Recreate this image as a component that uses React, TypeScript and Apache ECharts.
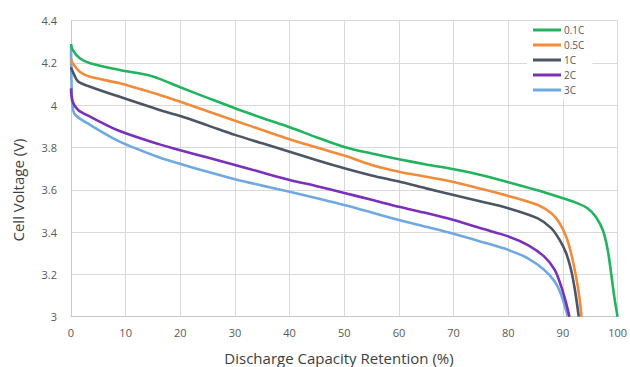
import React, { useEffect, useRef } from "react";
import * as echarts from "echarts";

const seriesNames = ["0.1C", "0.5C", "1C", "2C", "3C"];
const seriesColors = ["#22b35e", "#f28b3b", "#4b5565", "#7a30b8", "#70a9e2"];

const xTicks = [0, 10, 20, 30, 40, 50, 60, 70, 80, 90, 100];
const yTicks = [3, 3.2, 3.4, 3.6, 3.8, 4, 4.2, 4.4];

const c01: [number, number][] = [
  [0, 4.29], [0.3, 4.262], [1.6, 4.222], [3.5, 4.199], [8.9, 4.167], [14, 4.143],
  [16.2, 4.125], [20, 4.085], [25, 4.035], [30, 3.986], [35, 3.94], [40, 3.896],
  [45, 3.848], [50, 3.803], [55, 3.772], [60, 3.745], [65, 3.72], [70, 3.697],
  [75, 3.67], [80, 3.636], [85, 3.6], [90, 3.56], [92.7, 3.536], [94.5, 3.513],
  [96, 3.473], [97.3, 3.41], [98.2, 3.316], [98.9, 3.19], [99.4, 3.095], [100, 3.0],
];
const c05: [number, number][] = [
  [0, 4.22], [0.3, 4.199], [1.6, 4.159], [3.5, 4.135], [8.9, 4.104], [16.2, 4.049],
  [20, 4.017], [25, 3.972], [30, 3.927], [35, 3.883], [40, 3.839], [45, 3.8],
  [50, 3.762], [55, 3.718], [60, 3.686], [65, 3.662], [70, 3.637], [75, 3.605],
  [80, 3.571], [85.4, 3.528], [87.9, 3.489], [89.4, 3.442], [90.6, 3.378],
  [91.5, 3.3], [92.4, 3.19], [93, 3.095], [93.4, 3.0],
];
const c1: [number, number][] = [
  [0, 4.18], [0.3, 4.16], [1.3, 4.112], [3.5, 4.088], [8.9, 4.04], [16.2, 3.978],
  [20, 3.949], [25, 3.905], [30, 3.86], [35, 3.82], [40, 3.78], [45, 3.74],
  [50, 3.702], [55, 3.668], [60, 3.639], [65, 3.607], [70, 3.576], [75, 3.545],
  [80, 3.513], [85.4, 3.465], [87.9, 3.418], [89.4, 3.363], [90.6, 3.3],
  [91.5, 3.221], [92.2, 3.126], [92.9, 3.0],
];
const c2: [number, number][] = [
  [0, 4.08], [0.3, 4.017], [1.3, 3.978], [3.5, 3.946], [8.9, 3.878], [16.2, 3.815],
  [20, 3.787], [25, 3.753], [30, 3.718], [35, 3.682], [40, 3.647], [45, 3.617],
  [50, 3.585], [55, 3.553], [60, 3.52], [65, 3.49], [70, 3.457], [75, 3.418],
  [80, 3.38], [83.6, 3.339], [86.6, 3.284], [88.5, 3.221], [89.7, 3.142],
  [90.6, 3.063], [91.2, 3.0],
];
const c3: [number, number][] = [
  [0, 4.28], [0.1, 4.1], [0.3, 3.99], [0.8, 3.954], [3.5, 3.907], [8.9, 3.828],
  [16.2, 3.753], [20, 3.723], [25, 3.685], [30, 3.65], [35, 3.62], [40, 3.591],
  [45, 3.56], [50, 3.528], [55, 3.493], [60, 3.457], [65, 3.425], [70, 3.392],
  [75, 3.355], [80, 3.316], [83.6, 3.276], [86.6, 3.221], [88.5, 3.166],
  [89.7, 3.103], [90.9, 3.0],
];

const seriesData = [c01, c05, c1, c2, c3];

export default function App() {
  const ref = useRef<HTMLDivElement>(null);
  useEffect(() => {
    if (!ref.current) return;
    const chart = echarts.init(ref.current, undefined, { renderer: "svg" });
    const font = "'Open Sans', 'DejaVu Sans', sans-serif";
    chart.setOption({
      animation: false,
      backgroundColor: "#ffffff",
      textStyle: { fontFamily: font },
      grid: { left: 71, right: 11, top: 20.7, bottom: 50.3, containLabel: false },
      xAxis: {
        type: "value",
        min: xTicks[0],
        max: xTicks[xTicks.length - 1],
        interval: 10,
        axisLine: { show: true, lineStyle: { color: "#c8c8c8", width: 1 } },
        axisTick: { show: false },
        splitLine: { show: true, lineStyle: { color: "#d9d9d9", width: 1 } },
        axisLabel: { color: "#595959", fontSize: 11, margin: 10, fontFamily: font },
      },
      yAxis: {
        type: "value",
        min: yTicks[0],
        max: yTicks[yTicks.length - 1],
        interval: 0.2,
        axisLine: { show: true, lineStyle: { color: "#c8c8c8", width: 1 } },
        axisTick: { show: false },
        splitLine: { show: true, lineStyle: { color: "#d9d9d9", width: 1 } },
        axisLabel: {
          color: "#595959",
          fontSize: 11,
          margin: 14,
          fontFamily: font,
          formatter: (v: number) => String(Math.round(v * 10) / 10),
        },
      },
      legend: {
        orient: "vertical",
        left: 527,
        top: 21,
        padding: [4, 8, 4, 6],
        backgroundColor: "#ffffff",
        itemWidth: 28,
        itemHeight: 3,
        itemGap: 5,
        icon: "rect",
        data: seriesNames,
        textStyle: { color: "#595959", fontSize: 10, fontFamily: font, padding: [0, 0, 0, -2] },
      },
      graphic: [
        {
          type: "text",
          x: 18,
          y: 190,
          rotation: Math.PI / 2,
          style: {
            text: "Cell Voltage (V)",
            fill: "#404040",
            font: `15px ${font}`,
            textAlign: "center",
            textVerticalAlign: "middle",
          },
        },
        {
          type: "text",
          x: 339,
          y: 358,
          style: {
            text: "Discharge Capacity Retention (%)",
            fill: "#404040",
            font: `15px ${font}`,
            textAlign: "center",
            textVerticalAlign: "middle",
          },
        },
      ],
      series: seriesNames.map((name, i) => ({
        name,
        type: "line",
        data: seriesData[i],
        showSymbol: false,
        smooth: 0.3,
        color: seriesColors[i],
        lineStyle: { color: seriesColors[i], width: 2.6 },
        z: 10 - i,
      })),
    });
    return () => chart.dispose();
  }, []);
  return <div ref={ref} style={{ width: 630, height: 367, position: "absolute", left: 0, top: 0 }} />;
}
